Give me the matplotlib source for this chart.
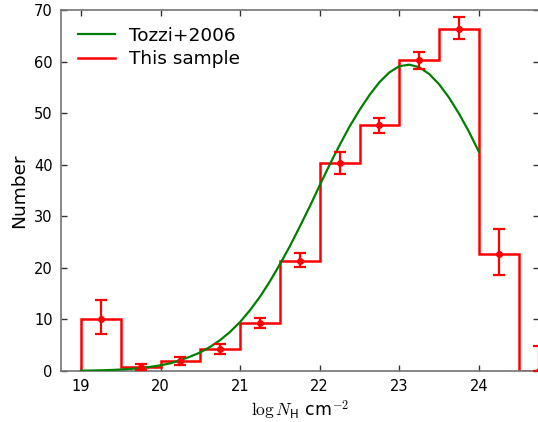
import numpy as np
import matplotlib
matplotlib.use("Agg")
import matplotlib.pyplot as plt
from matplotlib.lines import Line2D

plt.rcParams['mathtext.fontset'] = 'cm'

# --- DATA ---
bin_edges = [19.0, 19.5, 20.0, 20.5, 21.0, 21.5, 22.0, 22.5, 23.0, 23.5, 24.0, 24.5, 25.0]
counts = [10.0, 0.7, 2.0, 4.3, 9.3, 21.4, 40.3, 47.7, 60.3, 66.3, 22.7, 0.0]
err_low = [2.8, 0.5, 0.8, 1.1, 1.0, 1.3, 2.1, 1.5, 1.7, 1.9, 4.1, 0.0]
err_high = [3.8, 0.6, 0.8, 0.9, 1.0, 1.4, 2.2, 1.4, 1.5, 2.4, 4.8, 4.9]

tozzi_x = [19.0, 19.125, 19.25, 19.375, 19.5, 19.625, 19.75, 19.875,
           20.0, 20.125, 20.25, 20.375, 20.5, 20.625, 20.75, 20.875,
           21.0, 21.125, 21.25, 21.375, 21.5, 21.625, 21.75, 21.875,
           22.0, 22.125, 22.25, 22.375, 22.5, 22.625, 22.75, 22.875,
           23.0, 23.125, 23.25, 23.375, 23.5, 23.625, 23.75, 23.875, 24.0]
tozzi_y = [0.06, 0.09, 0.13, 0.19, 0.28, 0.40, 0.58, 0.81,
           1.1, 1.5, 2.1, 2.8, 3.6, 4.7, 6.0, 7.6,
           9.5, 11.8, 14.4, 17.4, 20.7, 24.2, 28.0, 31.9,
           36.0, 40.0, 43.8, 47.4, 50.6, 53.5, 56.0, 57.9,
           59.1, 59.4, 58.9, 57.6, 55.6, 53.0, 49.9, 46.4, 42.5]

xticks = [19, 20, 21, 22, 23, 24]
yticks = [0, 10, 20, 30, 40, 50, 60, 70]

# --- FIGURE ---
fig = plt.figure(figsize=(5.38, 4.22), dpi=100)
ax = fig.add_axes([61 / 538, 1 - 371 / 422, 477.6 / 538, 361 / 422])

centers = [(a + b) / 2 for a, b in zip(bin_edges[:-1], bin_edges[1:])]

ax.plot(tozzi_x, tozzi_y, color='green', lw=1.6, zorder=3)
ax.stairs(counts, bin_edges, color='red', lw=1.8, baseline=0, zorder=2)
ax.errorbar(centers, counts, yerr=[err_low, err_high], fmt='o', color='red',
            ms=4, lw=1.6, capsize=4, capthick=1.6, zorder=4)

ax.set_xlim(18.75, 24.75)
ax.set_ylim(0, 70)
ax.set_xticks(xticks)
ax.set_yticks(yticks)
ax.tick_params(direction='in', top=True, right=True, labelsize=10.5,
               length=4, width=1, color='0.2', pad=6)
for s in ax.spines.values():
    s.set_color('0.45')
    s.set_linewidth(1.2)

ax.set_xlabel(r'$\log N_{\mathsf{H}}$ cm$^{-2}$', fontsize=12.5, labelpad=3)
ax.set_ylabel('Number', fontsize=13.3, labelpad=4)

handles = [Line2D([], [], color='green', lw=1.6),
           Line2D([], [], color='red', lw=1.8)]
ax.legend(handles, ['Tozzi+2006', 'This sample'], loc='upper left',
          frameon=False, fontsize=13.3, handlelength=2.0,
          borderaxespad=0.5, labelspacing=0.3)

fig.savefig('out.png', dpi=100)
